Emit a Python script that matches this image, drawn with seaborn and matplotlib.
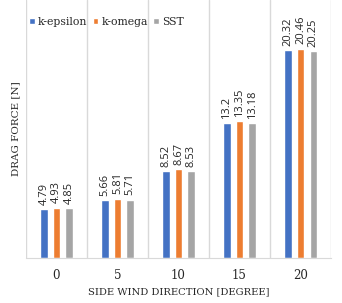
import pandas as pd
import seaborn as sns
from matplotlib import pyplot as plt

# Data
angles = ['0', '5', '10', '15', '20']
k_epsilon = [4.79, 5.66, 8.52, 13.2, 20.32]
k_omega = [4.93, 5.81, 8.67, 13.35, 20.46]
sst = [4.85, 5.71, 8.53, 13.18, 20.25]
models = ['k-epsilon', 'k-omega', 'SST']
colors = ['#4472C4', '#ED7D31', '#A5A5A5']

# Long-form table for seaborn
rows = []
for name, vals in zip(models, [k_epsilon, k_omega, sst]):
    for a, v in zip(angles, vals):
        rows.append({'angle': a, 'force': v, 'model': name})
df = pd.DataFrame(rows)

sns.set_style('white')
serif = ['DejaVu Serif']
txt = '#262626'

fig = plt.figure(figsize=(3.42, 3.03), dpi=100)
ax = fig.add_axes([0.076, 0.1485, 0.892, 0.8515])

sns.barplot(data=df, x='angle', y='force', hue='model', palette=colors,
            width=0.62, gap=0.42, order=angles, hue_order=models,
            errorbar=None, saturation=1, ax=ax)

for cont in ax.containers:
    ax.bar_label(cont, labels=[f'{v:g}' for v in cont.datavalues],
                 rotation=90, padding=3, fontsize=8, family='Open Sans',
                 color=txt)

ax.set_ylim(0, 25.2)
ax.set_xlim(-0.5, 4.5)
ax.set_yticks([])

# category separators
for x in range(6):
    ax.axvline(x - 0.5, color='#D9D9D9', lw=1, zorder=0)

for s in ['top', 'left', 'right']:
    ax.spines[s].set_visible(False)
ax.spines['bottom'].set_color('#D9D9D9')

ax.tick_params(axis='x', length=0, pad=8, labelsize=8.5, labelcolor=txt)
for t in ax.get_xticklabels():
    t.set_family(serif)

ax.set_xlabel('SIDE WIND DIRECTION [DEGREE]', fontsize=7.2, family=serif,
              color=txt, labelpad=4)
ax.set_ylabel('DRAG FORCE [N]', fontsize=7.5, family=serif, color=txt,
              labelpad=4)

leg = ax.legend(loc='upper left', bbox_to_anchor=(-0.01, 0.96), ncol=3,
                frameon=False, fontsize=7.8, handlelength=0.5,
                handleheight=0.5, handletextpad=0.3, columnspacing=0.5,
                borderaxespad=0.2)
for t in leg.get_texts():
    t.set_family(serif)
    t.set_color(txt)

fig.savefig('out.png', dpi=100)
